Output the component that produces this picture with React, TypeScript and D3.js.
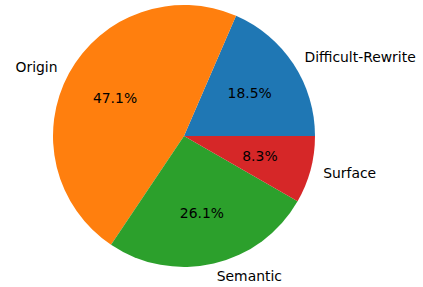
import React from 'react';
import * as d3 from 'd3';

const categories = ['Difficult-Rewrite', 'Origin', 'Semantic', 'Surface'];
const shares = [18.5, 47.1, 26.1, 8.3];
const colors = ['#1f77b4', '#ff7f0e', '#2ca02c', '#d62728'];

const W = 423;
const H = 287;
const cx = 184;
const cy = 136;
const r = 131;

const App = () => {
  const data = categories.map((name, i) => ({ name, value: shares[i], color: colors[i] }));
  // matplotlib style: start at 3 o'clock, go counter-clockwise
  const arcs = d3.pie<any>().value(d => d.value).sort(null)
    .startAngle(Math.PI / 2).endAngle(Math.PI / 2 - 2 * Math.PI)(data);
  const arc = d3.arc<any>().innerRadius(0).outerRadius(r);

  const at = (a: number, k: number) => [Math.sin(a) * r * k, -Math.cos(a) * r * k];

  return (
    <svg width={W} height={H} style={{ position: 'absolute', left: 0, top: 0, background: 'white' }}
      fontFamily="DejaVu Sans" fontSize={13.9}>
      <g transform={`translate(${cx},${cy})`}>
        {arcs.map(d => <path key={d.data.name} d={arc(d) as string} fill={d.data.color} />)}
        {arcs.map(d => {
          const mid = (d.startAngle + d.endAngle) / 2;
          const [lx, ly] = at(mid, 1.1);
          const [px, py] = at(mid, 0.6);
          return (
            <g key={'t' + d.data.name}>
              <text x={lx} y={ly} textAnchor={lx > 0 ? 'start' : 'end'} dominantBaseline="central" fill="#000">
                {d.data.name}
              </text>
              <text x={px} y={py} textAnchor="middle" dominantBaseline="central" fill="#000">
                {d.data.value.toFixed(1)}%
              </text>
            </g>
          );
        })}
      </g>
    </svg>
  );
};

export default App;
